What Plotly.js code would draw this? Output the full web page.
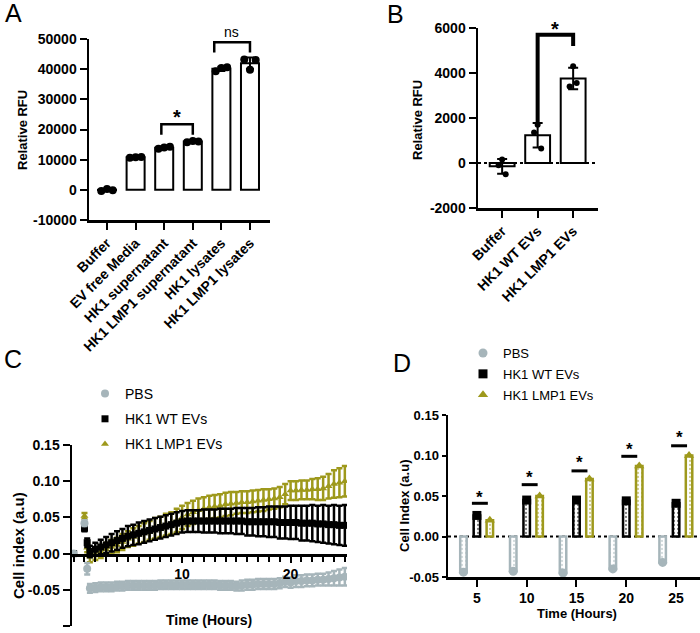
<!DOCTYPE html>
<html><head><meta charset="utf-8">
<script src="https://cdn.plot.ly/plotly-3.0.1.min.js"></script>
<style>html,body{margin:0;padding:0;background:#fff;}#chart{width:700px;height:633px;}</style>
</head><body><div id="chart"></div>
<script>
// ---------------- Panel A data ----------------
const catsA = ['Buffer','EV free Media','HK1 supernatant','HK1 LMP1 supernatant','HK1 lysates','HK1 LMP1 lysates'];
const repA1 = [-400, 10600, 13600, 15800, 39300, 43200];
const repA2 = [250, 10800, 14000, 16200, 40400, 39800];
const repA3 = [-100, 10900, 14300, 16000, 40600, 43000];
const yTicksA = [-10000, 0, 10000, 20000, 30000, 40000, 50000];
const yTextA = ['-10000','0','10000','20000','30000','40000','50000'];

// ---------------- Panel B data ----------------
const catsB = ['Buffer','HK1 WT EVs','HK1 LMP1 EVs'];
const repB1 = [150, 1700, 4300];
const repB2 = [-100, 1360, 3400];
const repB3 = [-500, 640, 3560];
const yTicksB = [-2000, 0, 2000, 4000, 6000];
const yTextB = ['-2000','0','2000','4000','6000'];

// ---------------- Panel C data (Cell index over time) ----------------
const timeC = [0, 1, 1.25,
  1.5, 2, 2.5, 3, 3.5, 4, 4.5, 5,
  5.5, 6, 6.5, 7, 7.5, 8, 8.5, 9,
  9.5, 10, 10.5, 11, 11.5, 12, 12.5, 13,
  13.5, 14, 14.5, 15, 15.5, 16, 16.5, 17,
  17.5, 18, 18.5, 19, 19.5, 20, 20.5, 21,
  21.5, 22, 22.5, 23, 23.5, 24, 24.5, 25];
const pbsC = [0, 0.042, -0.021,
  -0.048,-0.047,-0.046,-0.046,-0.046,-0.045,-0.045,-0.044,
  -0.044,-0.044,-0.044,-0.044,-0.044,-0.043,-0.043,-0.043,
  -0.043,-0.043,-0.043,-0.043,-0.043,-0.043,-0.043,-0.043,
  -0.044,-0.044,-0.044,-0.045,-0.044,-0.043,-0.043,-0.042,
  -0.042,-0.042,-0.042,-0.041,-0.039,-0.040,-0.038,-0.038,
  -0.037,-0.037,-0.036,-0.036,-0.035,-0.034,-0.033,-0.032];
const pbsErrC = [0, 0.004, 0.008,
  0.006,0.006,0.006,0.006,0.006,0.006,0.006,0.006,
  0.006,0.006,0.006,0.006,0.006,0.006,0.006,0.006,
  0.006,0.006,0.006,0.006,0.006,0.006,0.006,0.006,
  0.006,0.006,0.006,0.006,0.007,0.007,0.007,0.007,
  0.007,0.007,0.007,0.007,0.007,0.007,0.008,0.008,
  0.008,0.008,0.008,0.008,0.009,0.010,0.011,0.012];
const wtC = [0, 0.035, 0.015,
  0.003,0.006,0.009,0.012,0.015,0.018,0.021,0.024,
  0.026,0.028,0.030,0.032,0.034,0.036,0.038,0.040,
  0.042,0.044,0.045,0.045,0.045,0.045,0.045,0.045,
  0.045,0.045,0.045,0.045,0.045,0.044,0.044,0.044,
  0.044,0.044,0.044,0.043,0.043,0.043,0.043,0.042,
  0.042,0.042,0.041,0.041,0.040,0.040,0.039,0.039];
const wtErrC = [0, 0.004, 0.006,
  0.008,0.009,0.010,0.011,0.012,0.013,0.013,0.014,
  0.014,0.015,0.015,0.015,0.015,0.015,0.015,0.015,
  0.015,0.015,0.015,0.015,0.015,0.016,0.016,0.016,
  0.017,0.017,0.017,0.018,0.018,0.019,0.019,0.020,
  0.020,0.021,0.021,0.022,0.022,0.023,0.023,0.024,
  0.024,0.025,0.025,0.026,0.026,0.027,0.027,0.028];
const lmpC = [0, 0.052, 0.008,
  -0.004,-0.001,0.003,0.006,0.009,0.012,0.016,0.020,
  0.023,0.026,0.029,0.032,0.035,0.037,0.040,0.042,
  0.046,0.050,0.054,0.057,0.060,0.062,0.064,0.065,
  0.066,0.068,0.069,0.070,0.071,0.071,0.072,0.073,
  0.074,0.075,0.076,0.078,0.082,0.087,0.087,0.088,
  0.088,0.089,0.089,0.090,0.093,0.096,0.098,0.100];
const lmpErrC = [0, 0.004, 0.006,
  0.008,0.008,0.009,0.009,0.010,0.010,0.011,0.011,
  0.012,0.012,0.013,0.013,0.014,0.014,0.015,0.015,
  0.016,0.016,0.016,0.016,0.016,0.016,0.016,0.016,
  0.016,0.016,0.016,0.015,0.015,0.015,0.015,0.015,
  0.015,0.014,0.014,0.014,0.014,0.013,0.013,0.013,
  0.013,0.014,0.015,0.016,0.017,0.019,0.020,0.021];
const yTicksC = [-0.10, -0.05, 0, 0.05, 0.10, 0.15];
const yTextC = ['-0.10','-0.05','0.00','0.05','0.10','0.15'];
const xTicksC = [10, 20];
const xTextC = ['10','20'];

// ---------------- Panel D data ----------------
const timesD = [5, 10, 15, 20, 25];
const pbsD = [-0.044, -0.043, -0.045, -0.040, -0.032];
const wtD  = [0.026, 0.045, 0.045, 0.044, 0.041];
const lmpD = [0.020, 0.050, 0.071, 0.087, 0.100];
const yTicksD = [-0.05, 0, 0.05, 0.10, 0.15];
const yTextD = ['-0.05','0.00','0.05','0.10','0.15'];
const seriesNames = ['PBS', 'HK1 WT EVs', 'HK1 LMP1 EVs'];

// ---------------- styles ----------------
const F = 'Liberation Sans, Arial, Helvetica, sans-serif';
const GREY = '#a6b5ba';
const OLIVE = '#9e991c';
const BLACK = '#000000';
const px = v => v / 700;
const py = v => 1 - v / 633;
const mean = a => a.reduce((s, v) => s + v, 0) / a.length;
const sd = a => { const m = mean(a); return Math.sqrt(a.reduce((s, v) => s + (v - m) * (v - m), 0) / (a.length - 1)); };

const idxA = catsA.map((_, i) => i);
const repsA = [repA1, repA2, repA3];
const meanA = idxA.map(i => mean(repsA.map(r => r[i])));
const sdA = idxA.map(i => sd(repsA.map(r => r[i])));
const jitA = [-0.2, 0, 0.2];

const idxB = catsB.map((_, i) => i);
const repsB = [repB1, repB2, repB3];
const meanB = idxB.map(i => mean(repsB.map(r => r[i])));
const sdB = idxB.map(i => sd(repsB.map(r => r[i])));
const jitB = [0, -0.1, 0.1];

const traces = [];
// A
traces.push({type:'bar', x: idxA, y: meanA, xaxis:'x', yaxis:'y', width:0.63,
  marker:{color:'white', line:{color:BLACK, width:2}},
  error_y:{type:'data', array: sdA, color:BLACK, thickness:2, width:4},
  showlegend:false, hoverinfo:'skip'});
traces.push({type:'scatter', mode:'markers', xaxis:'x', yaxis:'y',
  x: [].concat(...repsA.map((r, k) => idxA.map(i => i + jitA[k]))),
  y: [].concat(...repsA),
  marker:{color:BLACK, size:8}, showlegend:false, hoverinfo:'skip'});
// B
traces.push({type:'bar', x: idxB, y: meanB, xaxis:'x2', yaxis:'y2', width:0.7,
  marker:{color:'white', line:{color:BLACK, width:2}},
  error_y:{type:'data', array: sdB, color:BLACK, thickness:2, width:5},
  showlegend:false, hoverinfo:'skip'});
traces.push({type:'scatter', mode:'markers', xaxis:'x2', yaxis:'y2',
  x: [].concat(...repsB.map((r, k) => idxB.map(i => i + jitB[k]))),
  y: [].concat(...repsB),
  marker:{color:BLACK, size:6}, showlegend:false, hoverinfo:'skip'});
// C
traces.push({type:'scatter', mode:'markers', name: seriesNames[2], x: timeC, y: lmpC, xaxis:'x3', yaxis:'y3',
  marker:{symbol:'triangle-up', color:OLIVE, size:7},
  error_y:{type:'data', array: lmpErrC, color:OLIVE, thickness:2.5, width:3},
  legend:'legend', legendgroup:'c3', legendrank:3, hoverinfo:'skip'});
traces.push({type:'scatter', mode:'markers', name: seriesNames[1], x: timeC, y: wtC, xaxis:'x3', yaxis:'y3',
  marker:{symbol:'square', color:BLACK, size:7},
  error_y:{type:'data', array: wtErrC, color:BLACK, thickness:2.5, width:3},
  legend:'legend', legendgroup:'c2', legendrank:2, hoverinfo:'skip'});
traces.push({type:'scatter', mode:'markers', name: seriesNames[0], x: timeC, y: pbsC, xaxis:'x3', yaxis:'y3',
  marker:{symbol:'circle', color:GREY, size:8},
  error_y:{type:'data', array: pbsErrC, color:GREY, thickness:2.5, width:3},
  legend:'legend', legendgroup:'c1', legendrank:1, hoverinfo:'skip'});
// D
const dSeries = [
  {vals: pbsD, color: GREY, sym: 'circle', off: -1.35},
  {vals: wtD, color: BLACK, sym: 'square', off: 0},
  {vals: lmpD, color: OLIVE, sym: 'triangle-up', off: 1.3}
];
const barW = 0.65;
dSeries.forEach((s, k) => {
  traces.push({type:'bar', x: timesD, y: s.vals, xaxis:'x4', yaxis:'y4', width: barW, offset: s.off - barW/2,
    marker:{color:'white', line:{color:s.color, width:2.5},
      pattern:{shape:'.', fgcolor:s.color, bgcolor:'white', size:4, solidity:0.25, fillmode:'overlay'}},
    showlegend:false, hoverinfo:'skip'});
});
dSeries.forEach((s, k) => {
  traces.push({type:'scatter', mode:'markers', x: timesD.map(t => t + s.off), y: s.vals, xaxis:'x4', yaxis:'y4',
    marker:{symbol:s.sym, color:s.color, size:9}, showlegend:false, hoverinfo:'skip'});
});
dSeries.forEach((s, k) => {
  traces.push({type:'scatter', mode:'markers', x:[null], y:[null], xaxis:'x4', yaxis:'y4', name: seriesNames[k],
    marker:{symbol:s.sym, color:s.color, size:9}, legend:'legend2', legendgroup:'d'+k, legendrank:k+1, hoverinfo:'skip'});
});

const axBase = {showgrid:false, zeroline:false, showline:true, linecolor:BLACK, linewidth:2.5,
  ticks:'outside', tickcolor:BLACK, tickwidth:2, ticklen:7, fixedrange:true,
  tickfont:{family:F, size:14, color:BLACK, weight:'bold'}};

const shapes = [];
// A brackets
shapes.push({type:'path', xref:'x', yref:'y', path:'M1.9,18300 L1.9,21700 L3,21700 L3,18300', line:{color:BLACK, width:2.5}});
shapes.push({type:'path', xref:'x', yref:'y', path:'M3.75,45500 L3.75,48900 L5,48900 L5,45500', line:{color:BLACK, width:2.5}});
// B bracket and zero line
shapes.push({type:'path', xref:'x2', yref:'y2', path:'M1,1750 L1,5700 L2,5700 L2,5200', line:{color:BLACK, width:4}});
shapes.push({type:'line', xref:'x2', yref:'y2', x0:-0.68, x1:2.7, y0:0, y1:0, line:{color:BLACK, width:2, dash:'dot'}, layer:'below'});
// D zero line and significance lines
shapes.push({type:'line', xref:'x4', yref:'y4', x0:2.1, x1:27.4, y0:0, y1:0, line:{color:BLACK, width:2, dash:'dot'}, layer:'below'});
const sigLineD = [0.041, 0.064, 0.081, 0.099, 0.112];
const sigStarD = [0.053, 0.078, 0.096, 0.112, 0.127];
timesD.forEach((t, i) => shapes.push({type:'line', xref:'x4', yref:'y4', x0:t-0.5, x1:t+1.1, y0:sigLineD[i], y1:sigLineD[i], line:{color:BLACK, width:3}}));

const ann = [];
const lab = (txt, x, y) => ann.push({text:txt, xref:'paper', yref:'paper', x:px(x), y:py(y), xanchor:'left', yanchor:'middle', showarrow:false, font:{family:F, size:25, color:BLACK}});
lab('A', 3, 13); lab('B', 385, 14); lab('C', 2, 359); lab('D', 391, 363);
const ytitle = (txt, x, y, size) => ann.push({text:txt, xref:'paper', yref:'paper', x:px(x), y:py(y), xanchor:'center', yanchor:'middle', textangle:-90, showarrow:false, font:{family:F, size:size, color:BLACK, weight:'bold'}});
ytitle('Relative RFU', 22, 130, 13);
ytitle('Relative RFU', 418, 120, 13);
ytitle('Cell index (a.u)', 18, 546, 15);
ytitle('Cell Index (a.u)', 404, 506, 13);
const xtitle = (txt, x, y, size) => ann.push({text:txt, xref:'paper', yref:'paper', x:px(x), y:py(y), xanchor:'center', yanchor:'middle', showarrow:false, font:{family:F, size:size, color:BLACK, weight:'bold'}});
xtitle('Time (Hours)', 209, 620, 14);
xtitle('Time (Hours)', 577, 613, 13);
const star = (xr, yr, x, y, size, shift) => ann.push({text:'*', xref:xr, yref:yr, x:x, y:y, xanchor:'center', yanchor:'middle', yshift:shift - Math.round(size*0.25), showarrow:false, font:{family:F, size:size, color:BLACK, weight:'bold'}});
star('x', 'y', 2.45, 25700, 20, 0);
star('x2', 'y2', 1.5, 6000, 20, 4);
timesD.forEach((t, i) => star('x4', 'y4', t + 0.3, sigStarD[i], 17, 0));
ann.push({text:'ns', xref:'x', yref:'y', x:4.37, y:50000, yshift:7, xanchor:'center', yanchor:'middle', showarrow:false, font:{family:F, size:14, color:BLACK}});

const layout = {
  width:700, height:633, margin:{l:0, r:0, t:0, b:0}, paper_bgcolor:'white', plot_bgcolor:'rgba(0,0,0,0)',
  barmode:'overlay', font:{family:F, color:BLACK},
  xaxis: Object.assign({}, axBase, {domain:[px(89), px(270)], range:[-0.63, 5.7], anchor:'y', tickmode:'array', tickvals:idxA, ticktext:catsA, tickangle:-45}),
  yaxis: Object.assign({}, axBase, {domain:[py(220), py(39)], range:[-10000, 50000], anchor:'x', tickmode:'array', tickvals:yTicksA, ticktext:yTextA}),
  xaxis2: Object.assign({}, axBase, {domain:[px(478), px(598)], range:[-0.68, 2.7], anchor:'y2', tickmode:'array', tickvals:idxB, ticktext:catsB, tickangle:-45}),
  yaxis2: Object.assign({}, axBase, {domain:[py(208), py(28)], range:[-2000, 6000], anchor:'x2', tickmode:'array', tickvals:yTicksB, ticktext:yTextB}),
  xaxis3: Object.assign({}, axBase, {domain:[px(72), px(347)], range:[-0.15, 25.2], anchor:'free', position:py(555), tickmode:'array', tickvals:xTicksC, ticktext:xTextC, ticklen:6,
    minor:{tickmode:'linear', tick0:0, dtick:1, ticks:'outside', ticklen:5, tickwidth:2, tickcolor:BLACK, showgrid:false}}),
  yaxis3: Object.assign({}, axBase, {domain:[py(626), py(445)], range:[-0.10, 0.15], anchor:'x3', tickmode:'array', tickvals:yTicksC, ticktext:yTextC}),
  xaxis4: Object.assign({}, axBase, {domain:[px(448), px(700)], range:[2.1, 27.4], anchor:'y4', tickmode:'array', tickvals:timesD, ticktext:timesD.map(String)}),
  yaxis4: Object.assign({}, axBase, {domain:[py(577), py(415)], range:[-0.05, 0.15], anchor:'x4', tickmode:'array', tickvals:yTicksD, ticktext:yTextD, ticklen:4, tickfont:{family:F, size:13, color:BLACK, weight:'bold'}}),
  legend: {x:px(85), y:py(378), xanchor:'left', yanchor:'top', bgcolor:'rgba(0,0,0,0)', borderwidth:0, font:{family:F, size:14, color:BLACK}, traceorder:'grouped', tracegroupgap:4},
  legend2: {x:px(463), y:py(338), xanchor:'left', yanchor:'top', bgcolor:'rgba(0,0,0,0)', borderwidth:0, font:{family:F, size:13, color:BLACK}, traceorder:'grouped', tracegroupgap:1},
  shapes: shapes, annotations: ann
};
Plotly.newPlot('chart', traces, layout, {displayModeBar:false, staticPlot:true});
</script></body></html>
